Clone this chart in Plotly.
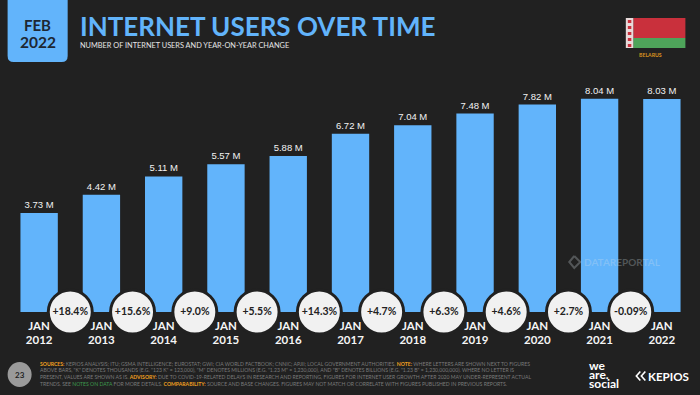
import plotly.graph_objects as go

W, H = 700, 395
years = ["2012", "2013", "2014", "2015", "2016", "2017", "2018", "2019", "2020", "2021", "2022"]
users_m = [3.73, 4.42, 5.11, 5.57, 5.88, 6.72, 7.04, 7.48, 7.82, 8.04, 8.03]
value_labels = ["3.73 M", "4.42 M", "5.11 M", "5.57 M", "5.88 M", "6.72 M", "7.04 M", "7.48 M", "7.82 M", "8.04 M", "8.03 M"]
changes = ["+18.4%", "+15.6%", "+9.0%", "+5.5%", "+14.3%", "+4.7%", "+6.3%", "+4.6%", "+2.7%", "-0.09%"]

BG = "#212121"
BLUE = "#62B4FB"
ML, MR, MT, MB = 8.4, 7.4, 60, 83
px = lambda v: (v - ML) / (W - ML - MR)
py = lambda v: 1 - (v - MT) / (H - MT - MB)

xs = list(range(len(years)))
mid = [x + 0.5 for x in xs[:-1]]

fig = go.Figure()
fig.add_bar(x=xs, y=users_m, marker=dict(color=BLUE, line_width=0), width=0.6,
            text=value_labels, textposition="outside", cliponaxis=False,
            textfont=dict(family="Liberation Sans", size=9.5, color="#F2F2F2"))
fig.add_scatter(x=mid, y=[0] * len(mid), mode="markers+text", text=changes, cliponaxis=False,
                textposition="middle center",
                marker=dict(size=44, color="#F1F1F1", line=dict(color=BG, width=3)),
                textfont=dict(family="Lato", size=10.5, color="#222222", weight="bold"))


def note(x, y, text, size, color, family="Lato", bold=False, xanchor="left"):
    fig.add_annotation(xref="paper", yref="paper", x=px(x), y=py(y), text=f"<b>{text}</b>" if bold else text,
                       showarrow=False, xanchor=xanchor, yanchor="middle", align="left",
                       font=dict(family=family, size=size, color=color), borderpad=0)


def rect(x0, y0, x1, y1, color):
    fig.add_shape(type="rect", xref="paper", yref="paper", x0=px(x0), x1=px(x1), y0=py(y0), y1=py(y1),
                  fillcolor=color, line_width=0)


def stroke(points, color, width):
    path = "M " + " L ".join(f"{px(a)} {py(b)}" for a, b in points)
    fig.add_shape(type="path", xref="paper", yref="paper", path=path, line=dict(color=color, width=width))


# month tab
fig.add_shape(type="path", xref="paper", yref="paper", fillcolor=BLUE, line_width=0,
              path=f"M {px(8)} {py(0)} L {px(68)} {py(0)} L {px(68)} {py(56)} Q {px(68)} {py(62)} {px(62)} {py(62)} "
                   f"L {px(14)} {py(62)} Q {px(8)} {py(62)} {px(8)} {py(56)} Z")
note(38, 24.5, "FEB", 15, "#1D2733", bold=True, xanchor="center")
note(38, 42, "2022", 15.5, "#1D2733", bold=True, xanchor="center")

note(79, 26, "INTERNET USERS OVER TIME", 26, BLUE, bold=True)
note(79, 45, "NUMBER OF INTERNET USERS AND YEAR-ON-YEAR CHANGE", 7.35, "#E6E6E6")

# flag
rect(633, 18, 685, 38, "#C9303C")
rect(633, 38, 685, 48, "#4EA45A")
rect(625.5, 18, 633, 48, "#E9DADA")
for k in range(5):
    rect(627.5, 20 + k * 6, 631, 23 + k * 6, "#C9303C")
note(650.5, 54.5, "BELARUS", 5.2, "#D9911E", bold=True, xanchor="center")

# watermark
WM = "rgba(215,225,235,0.28)"
note(583, 262, "DATAREPORTAL", 10, WM, bold=True)
stroke([(574, 256), (569, 262), (574, 268), (580, 262), (574, 256)], WM, 2)

# footer
fig.add_shape(type="circle", xref="paper", yref="paper", x0=px(8), x1=px(32), y0=py(387), y1=py(362),
              fillcolor="#9A9A9A", line_width=0)
note(20, 374.5, "23", 8, "#222222", bold=True, xanchor="center")

O = "#F0A020"
G = "#7A7A7A"
lines = [
    f'<span style="color:{O}"><b>SOURCES:</b></span> KEPIOS ANALYSIS; ITU; GSMA INTELLIGENCE; EUROSTAT; GWI; CIA WORLD FACTBOOK; CNNIC; APJII; LOCAL GOVERNMENT AUTHORITIES. <span style="color:{O}"><b>NOTE:</b></span> WHERE LETTERS ARE SHOWN NEXT TO FIGURES',
    'ABOVE BARS, "K" DENOTES THOUSANDS (E.G. "123 K" = 123,000), "M" DENOTES MILLIONS (E.G. "1.23 M" = 1,230,000), AND "B" DENOTES BILLIONS (E.G. "1.23 B" = 1,230,000,000). WHERE NO LETTER IS',
    f'PRESENT, VALUES ARE SHOWN AS IS. <span style="color:{O}"><b>ADVISORY:</b></span> DUE TO COVID-19-RELATED DELAYS IN RESEARCH AND REPORTING, FIGURES FOR INTERNET USER GROWTH AFTER 2020 MAY UNDER-REPRESENT ACTUAL',
    f'TRENDS. SEE <span style="color:#3E9A4E">NOTES ON DATA</span> FOR MORE DETAILS. <span style="color:{O}"><b>COMPARABILITY:</b></span> SOURCE AND BASE CHANGES. FIGURES MAY NOT MATCH OR CORRELATE WITH FIGURES PUBLISHED IN PREVIOUS REPORTS.',
]
for i, line in enumerate(lines):
    note(39.5, 363.5 + i * 6.9, line, 5.12, G)

# logos
note(588, 365, "we", 12, "#FFFFFF", bold=True)
note(588, 374, "are.", 12, "#FFFFFF", bold=True)
note(588, 383, "social", 12, "#FFFFFF", bold=True)
stroke([(640, 371.5), (636, 376), (640, 380.5)], "#FFFFFF", 1.6)
stroke([(645, 371.5), (641, 376), (645, 380.5)], "#FFFFFF", 1.6)
note(646.5, 376, "KEPIOS", 11.6, "#FFFFFF", bold=True)

fig.update_layout(
    width=W, height=H, autosize=False, showlegend=False, paper_bgcolor=BG, plot_bgcolor=BG,
    margin=dict(l=ML, r=MR, t=MT, b=MB),
    xaxis=dict(range=[-0.5, 10.5], tickmode="array", tickvals=xs, ticktext=[f"JAN<br>{y}" for y in years],
               showgrid=False, zeroline=False, showline=False, ticks="", ticklabelstandoff=5,
               tickfont=dict(family="Lato", size=11.5, color="#F5F5F5", weight="bold")),
    yaxis=dict(range=[0, 9.5], visible=False),
)
fig.write_html("out.html", config={"displayModeBar": False},
               post_script="document.body.style.margin='0';document.body.style.background='#212121';document.body.style.overflow='hidden';")
